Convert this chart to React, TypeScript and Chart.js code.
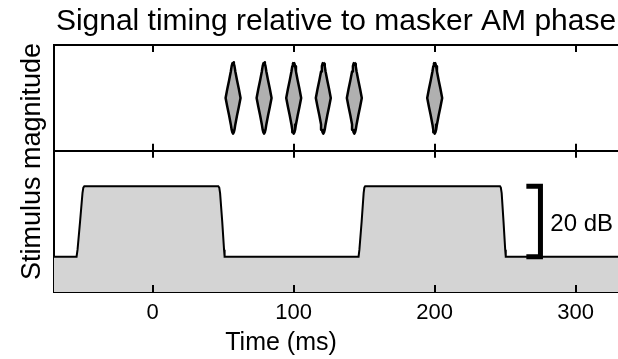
import React, { useEffect, useRef } from 'react';
import { Chart, registerables } from 'chart.js';

Chart.register(...registerables);

const TITLE = 'Signal timing relative to masker AM phase';
const X_LABEL = 'Time (ms)';
const Y_LABEL = 'Stimulus magnitude';
const BRACKET_LABEL = '20 dB';

const xRange = [-70, 330];
const xTicks = [0, 100, 200, 300];
const yRange = [0, 70];
const panelDivider = 40;

// signal tone pips (top panel)
const signalTimes = [57, 79, 100, 121, 143, 200];
const signalLevel = 55;
const diamondRise = [0, 2.5, 5, 7.5, 9, 9.7, 10.1];
const diamondHalfWidth = [5.3, 4.1, 2.8, 1.6, 1.0, 0.55, 0];

// masker envelope (bottom panel), dB
const maskerTimes = [-70, -54, -53.3, -51.5, -49.8, -49.2, -48.5, 46.5, 47.2, 47.8, 49.3, 50.6, 51, 146, 146.6, 148.2, 149.6, 150.1, 150.7, 246.3, 246.9, 247.5, 248.8, 250, 250.4, 330];
const maskerLevels = [10, 10, 12, 20, 28, 29.6, 30, 30, 29.6, 28, 20, 12, 10, 10, 12, 20, 28, 29.6, 30, 30, 29.6, 28, 20, 12, 10, 10];

// 20 dB scale bracket
const bracketTimes = [265, 275, 275, 265];
const bracketLevels = [30, 30, 10, 10];
const bracketLabelTime = 282;
const bracketLabelLevel = 20;
const xLabelTime = 91;
const yLabelLevel = 37;

function diamondPoints(t: number) {
  const pts: { x: number; y: number }[] = [];
  const n = diamondRise.length;
  for (let i = n - 1; i >= 0; i--) pts.push({ x: t + diamondHalfWidth[i], y: signalLevel + diamondRise[i] });
  for (let i = 1; i < n; i++) pts.push({ x: t + diamondHalfWidth[i], y: signalLevel - diamondRise[i] });
  for (let i = n - 2; i >= 0; i--) pts.push({ x: t - diamondHalfWidth[i], y: signalLevel - diamondRise[i] });
  for (let i = 1; i < n; i++) pts.push({ x: t - diamondHalfWidth[i], y: signalLevel + diamondRise[i] });
  return pts;
}

const FONT = '"Liberation Sans", Arial, sans-serif';

const decor = {
  id: 'decor',
  afterDraw(chart: any) {
    const { ctx, chartArea, scales } = chart;
    const x = scales.x;
    const y = scales.y;
    ctx.save();
    ctx.strokeStyle = '#000';
    ctx.lineWidth = 2;
    const yTop = y.getPixelForValue(yRange[1]);
    const yMid = y.getPixelForValue(panelDivider);
    const yBot = y.getPixelForValue(yRange[0]);
    const L = 7;
    ctx.beginPath();
    for (const v of xTicks) {
      const px = Math.round(x.getPixelForValue(v));
      ctx.moveTo(px, yTop);
      ctx.lineTo(px, yTop + L);
      ctx.moveTo(px, yMid - L);
      ctx.lineTo(px, yMid + L);
      ctx.moveTo(px, yBot);
      ctx.lineTo(px, yBot - L);
    }
    ctx.stroke();
    ctx.fillStyle = '#000';
    ctx.font = '24px ' + FONT;
    ctx.textAlign = 'left';
    ctx.textBaseline = 'alphabetic';
    ctx.fillText(BRACKET_LABEL, x.getPixelForValue(bracketLabelTime), y.getPixelForValue(bracketLabelLevel) + 10);
    ctx.textAlign = 'center';
    ctx.font = '25px ' + FONT;
    ctx.fillText(X_LABEL, x.getPixelForValue(xLabelTime), chartArea.bottom + 58);
    ctx.save();
    ctx.translate(chartArea.left - 21, y.getPixelForValue(yLabelLevel));
    ctx.rotate(-Math.PI / 2);
    ctx.font = '27px ' + FONT;
    ctx.textBaseline = 'middle';
    ctx.fillText(Y_LABEL, 0, 0);
    ctx.restore();
    ctx.restore();
  },
};

export default function App() {
  const ref = useRef<HTMLCanvasElement | null>(null);
  useEffect(() => {
    if (!ref.current) return;
    Chart.defaults.font.family = FONT;
    Chart.defaults.color = '#000';
    const datasets: any[] = [];
    datasets.push({
      label: 'bracket',
      data: bracketTimes.map((t, i) => ({ x: t, y: bracketLevels[i] })),
      borderColor: '#000',
      borderWidth: 5,
      borderJoinStyle: 'miter',
      borderCapStyle: 'butt',
      fill: false,
      pointRadius: 0,
      tension: 0,
    });
    signalTimes.forEach((t, k) => {
      datasets.push({
        label: 'signal ' + k,
        data: diamondPoints(t),
        borderColor: '#000',
        backgroundColor: '#b0b0b0',
        borderWidth: 2.5,
        borderJoinStyle: 'round',
        fill: 'shape',
        pointRadius: 0,
        tension: 0,
      });
    });
    datasets.push({
      label: 'masker',
      data: maskerTimes.map((t, i) => ({ x: t, y: maskerLevels[i] })),
      borderColor: '#000',
      backgroundColor: '#d4d4d4',
      borderWidth: 2,
      fill: 'origin',
      pointRadius: 0,
      tension: 0,
    });

    const chart = new Chart(ref.current, {
      type: 'line',
      data: { datasets },
      plugins: [decor],
      options: {
        animation: false,
        responsive: false,
        devicePixelRatio: 1,
        events: [],
        layout: { padding: 0 },
        plugins: {
          legend: { display: false },
          tooltip: { enabled: false },
          title: {
            display: true,
            text: TITLE,
            color: '#000',
            fullSize: false,
            font: { size: 30, weight: 'normal', family: FONT },
            padding: { top: 4, bottom: 5 },
          },
        },
        scales: {
          x: {
            type: 'linear',
            min: xRange[0],
            max: xRange[1],
            afterBuildTicks: (s: any) => {
              s.ticks = xTicks.map((v) => ({ value: v }));
            },
            grid: { display: false, drawTicks: false },
            border: { display: true, color: '#000', width: 2 },
            ticks: { color: '#000', font: { size: 22, family: FONT }, padding: 8, maxRotation: 0, autoSkip: false },
            afterFit: (s: any) => {
              s.height = 67;
            },
          },
          y: {
            type: 'linear',
            min: yRange[0],
            max: yRange[1],
            afterBuildTicks: (s: any) => {
              s.ticks = [yRange[0], panelDivider, yRange[1]].map((v) => ({ value: v }));
            },
            ticks: { display: false },
            grid: {
              drawTicks: false,
              lineWidth: 2,
              color: (c: any) =>
                c.tick && (c.tick.value === panelDivider || c.tick.value === yRange[1]) ? '#000' : 'rgba(0,0,0,0)',
            },
            border: { display: true, color: '#000', width: 2 },
            title: { display: false },
            afterFit: (s: any) => {
              s.width = 54;
            },
          },
        },
      } as any,
    });
    return () => chart.destroy();
  }, []);
  return (
    <div style={{ position: 'fixed', left: 0, top: 0, width: 618, height: 359, background: '#fff' }}>
      <canvas ref={ref} width={618} height={359} style={{ display: 'block' }} />
    </div>
  );
}
